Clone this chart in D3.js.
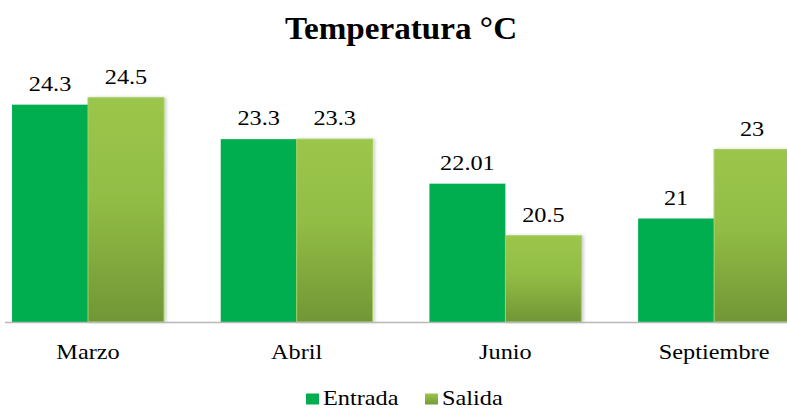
<!DOCTYPE html>
<html>
<head>
<meta charset="utf-8">
<script src="https://cdn.jsdelivr.net/npm/d3@7/dist/d3.min.js"></script>
<style>
  html, body { margin: 0; padding: 0; background: #fff; overflow: hidden; }
  svg { display: block; }
</style>
</head>
<body>
<script>
const title = "Temperatura °C";
const categories = ["Marzo", "Abril", "Junio", "Septiembre"];
const seriesNames = ["Entrada", "Salida"];
const entrada = [24.3, 23.3, 22.01, 21];
const salida = [24.5, 23.3, 20.5, 23];
const entradaLabels = ["24.3", "23.3", "22.01", "21"];
const salidaLabels = ["24.5", "23.3", "20.5", "23"];
const yDomain = [18, 25];

const W = 787, H = 410;
const SX = 1.13;      // horizontal stretch of regular text in the reference
const SX_TITLE = 1.07;
const FONT = "'Liberation Serif', 'Times New Roman', Times, serif";

const svg = d3.select("body").append("svg").attr("width", W).attr("height", H);

const defs = svg.append("defs");
const grad = defs.append("linearGradient").attr("id", "salidaGrad")
  .attr("x1", 0).attr("y1", 0).attr("x2", 0).attr("y2", 1);
grad.append("stop").attr("offset", "0%").attr("stop-color", "#9cc64b");
grad.append("stop").attr("offset", "45%").attr("stop-color", "#92bd45");
grad.append("stop").attr("offset", "100%").attr("stop-color", "#719636");
const lgGrad = defs.append("linearGradient").attr("id", "legGrad")
  .attr("x1", 0).attr("y1", 0).attr("x2", 0).attr("y2", 1);
lgGrad.append("stop").attr("offset", "0%").attr("stop-color", "#9cc64b");
lgGrad.append("stop").attr("offset", "100%").attr("stop-color", "#749a38");
const shadow = defs.append("filter").attr("id", "shadow")
  .attr("x", "-10%").attr("y", "-10%").attr("width", "130%").attr("height", "120%");
shadow.append("feDropShadow").attr("dx", 2).attr("dy", 0).attr("stdDeviation", 1.5)
  .attr("flood-color", "#000").attr("flood-opacity", 0.18);

const baseY = 322;
const y = d3.scaleLinear().domain(yDomain).range([baseY, baseY - 7 * 34.5]);

const x0 = d3.scaleBand().domain(categories).range([-16.35, 818.45])
  .paddingInner(0.272).paddingOuter(0.136);
const x1 = d3.scaleBand().domain(seriesNames).range([0, x0.bandwidth()]);

const data = categories.map((c, i) => ({
  cat: c,
  vals: [
    { s: "Entrada", v: entrada[i], label: entradaLabels[i] },
    { s: "Salida", v: salida[i], label: salidaLabels[i] }
  ]
}));

function stretchedText(g, x, yy, txt, size, weight, anchor, sx) {
  return g.append("text")
    .attr("transform", `translate(${x},${yy}) scale(${sx || SX},1)`)
    .attr("text-anchor", anchor || "middle")
    .attr("font-family", FONT)
    .attr("font-size", size)
    .attr("font-weight", weight || "normal")
    .attr("fill", "#000")
    .text(txt);
}

// Title
stretchedText(svg, 401, 38.7, title, 31, "bold", "middle", SX_TITLE);

// Bars
const groups = svg.append("g").selectAll("g").data(data).join("g")
  .attr("transform", d => `translate(${x0(d.cat)},0)`);

groups.selectAll("rect").data(d => d.vals).join("rect")
  .attr("x", d => x1(d.s))
  .attr("y", d => y(d.v))
  .attr("width", x1.bandwidth())
  .attr("height", d => baseY - y(d.v))
  .attr("fill", d => d.s === "Entrada" ? "#00ae4f" : "url(#salidaGrad)")
  .attr("stroke", d => d.s === "Entrada" ? "none" : "#a4d062")
  .attr("stroke-width", 1)
  .attr("filter", d => d.s === "Salida" ? "url(#shadow)" : null);

// Value labels
groups.each(function(d) {
  const g = d3.select(this);
  d.vals.forEach(v => {
    stretchedText(g, x1(v.s) + x1.bandwidth() / 2, y(v.v) - 13.7, v.label, 21.5);
  });
});

// Axis line
svg.append("line").attr("x1", 5).attr("x2", W).attr("y1", baseY + 0.5).attr("y2", baseY + 0.5)
  .attr("stroke", "#b8b8b8").attr("stroke-width", 1.5);

// Category labels
categories.forEach(c => {
  stretchedText(svg, x0(c) + x0.bandwidth() / 2, 359, c, 21.5);
});

// Legend
const legend = svg.append("g");
const legItems = [
  { name: "Entrada", x: 306, fill: "#00ae4f" },
  { name: "Salida", x: 425, fill: "url(#legGrad)" }
];
legItems.forEach(it => {
  legend.append("rect").attr("x", it.x).attr("y", 393.5).attr("width", 13).attr("height", 11)
    .attr("fill", it.fill);
  stretchedText(legend, it.x + 17, 405, it.name, 21.5, "normal", "start");
});
</script>
</body>
</html>
